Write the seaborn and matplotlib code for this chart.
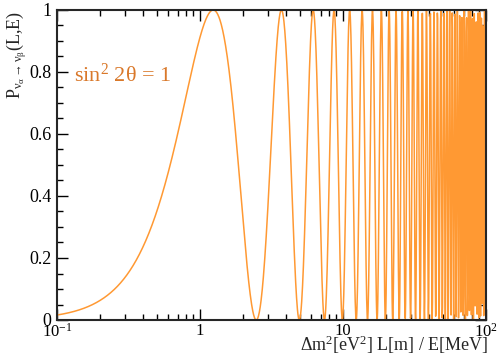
import numpy as np
import pandas as pd
import matplotlib
matplotlib.use("Agg")
import matplotlib.pyplot as plt
import seaborn as sns
from matplotlib.ticker import MultipleLocator, LogLocator, NullFormatter

# oscillation parameters
sin2_2theta = 1.0
phase_coef = 1.27          # first maximum at x ~ 1.24
x_min, x_max = 0.1, 100.0
n_points = 1500

x = np.logspace(np.log10(x_min), np.log10(x_max), n_points)
prob = sin2_2theta * np.sin(phase_coef * x) ** 2
df = pd.DataFrame({"x": x, "P": prob})

x_ticks = [0.1, 1, 10, 100]
x_ticklabels = [r"$10^{-1}$", "1", "10", r"$10^{2}$"]
y_ticks = [0, 0.2, 0.4, 0.6, 0.8, 1]
y_ticklabels = ["0", "0.2", "0.4", "0.6", "0.8", "1"]

sns.set_style("ticks")
plt.rcParams["font.family"] = ["Liberation Serif", "DejaVu Serif"]
plt.rcParams["mathtext.fontset"] = "custom"
plt.rcParams["mathtext.rm"] = "Liberation Serif"
plt.rcParams["mathtext.it"] = "Liberation Serif:italic"
plt.rcParams["mathtext.default"] = "regular"

fig = plt.figure(figsize=(4.99, 3.58), dpi=100)
ax = fig.add_axes([57 / 499, 1 - 320 / 358, 429 / 499, 310 / 358])

sns.lineplot(data=df, x="x", y="P", ax=ax, color="#ff9933", linewidth=1.1, estimator=None)

ax.set_xscale("log")
ax.set_xlim(x_min, x_max)
ax.set_ylim(0, 1)
ax.set_xticks(x_ticks)
ax.set_xticklabels(x_ticklabels)
ax.xaxis.set_minor_locator(LogLocator(base=10, subs=np.arange(2, 10)))
ax.xaxis.set_minor_formatter(NullFormatter())
ax.set_yticks(y_ticks)
ax.set_yticklabels(y_ticklabels)
ax.yaxis.set_minor_locator(MultipleLocator(0.05))

ax.tick_params(which="both", direction="in", top=True, right=True, width=1.0, labelsize=13, colors="black")
ax.tick_params(which="major", length=8)
ax.tick_params(axis="x", which="major", pad=2, labelsize=12)
ax.tick_params(axis="y", which="major", pad=4)
ax.tick_params(which="minor", length=4)
for s in ax.spines.values():
    s.set_linewidth(1.5)

ax.set_xlabel("")
ax.set_ylabel("")
fig.text(488 / 499, 2 / 358, r"$\Delta$m$^{2}$[eV$^{2}$] L[m] / E[MeV]", fontsize=13,
         ha="right", va="bottom")
fig.text(17 / 499, 1 - 55 / 358, r"P$_{\nu_{\alpha} \rightarrow \nu_{\beta}}$(L,E)", fontsize=13,
         rotation=90, ha="center", va="center")

ax.text(0.04, 0.79, r"sin$^{2}$ 2$\theta$ = 1", transform=ax.transAxes, fontsize=16,
        color="#d9782a", va="center", ha="left")

fig.savefig("out.png", dpi=100)
